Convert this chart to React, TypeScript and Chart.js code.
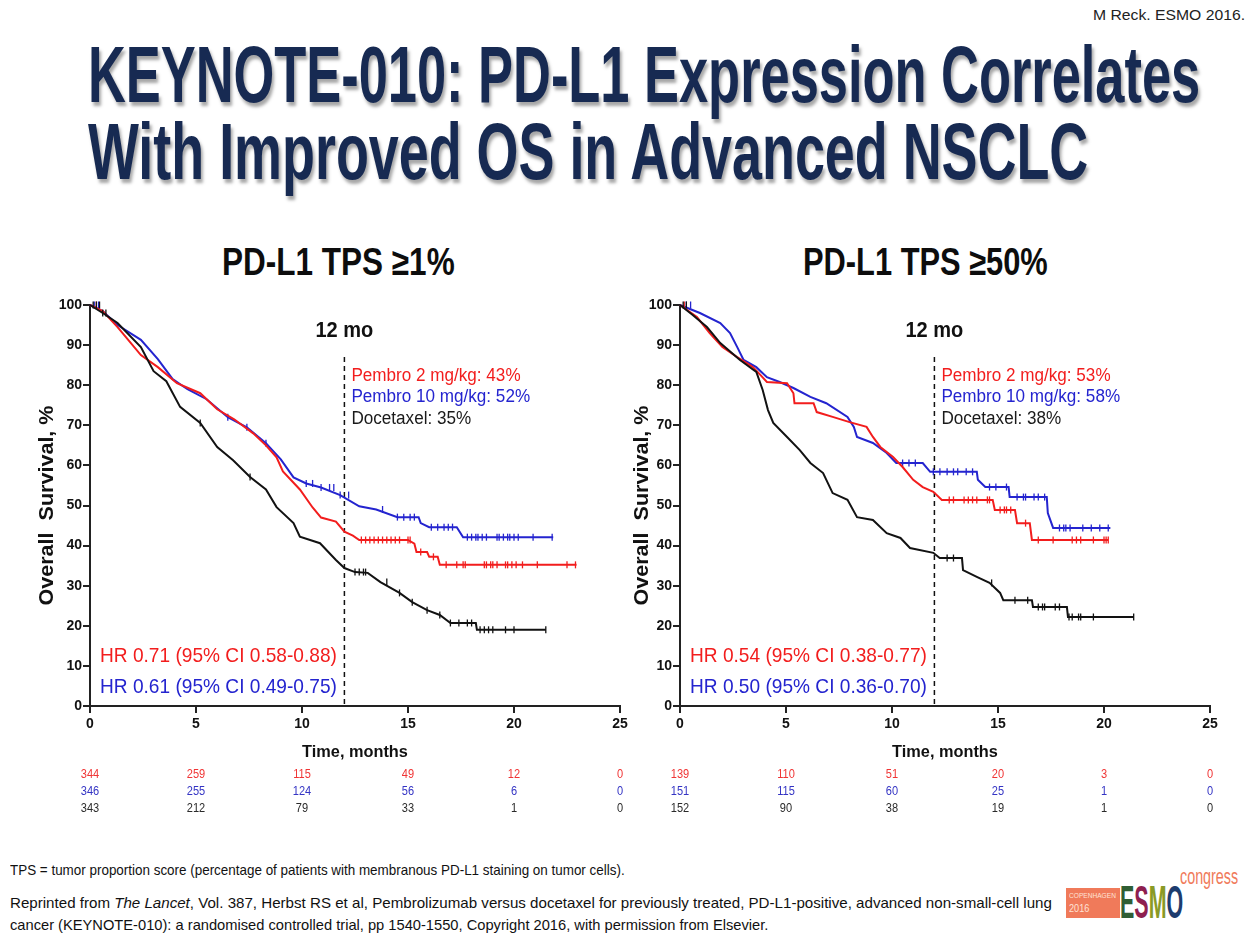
import React, { useEffect, useLayoutEffect, useRef, useState } from 'react';
import { Chart, registerables } from 'chart.js';
Chart.register(...registerables);

const FONT = "'Liberation Sans', Arial, Helvetica, sans-serif";
const RED = '#f21d1d';
const BLUE = '#2424cf';
const BLACK = '#121212';

// ---------------- DATA ----------------
const RISK_TIMES = [0, 5, 10, 15, 20, 25];

// Left panel: PD-L1 TPS >= 1%   ([months, survival %] vertices)
const L_PEMBRO2: [number, number][] = [
  [0, 100], [0.6, 98.5], [1.3, 94.5], [2.4, 87.5], [3.2, 84.5], [4.1, 80.5], [5.2, 78], [6.0, 74],
  [6.8, 71.5], [7.7, 68], [8.3, 65], [8.8, 62], [9.1, 58.5], [9.9, 54], [10.5, 49.5], [10.9, 47],
  [11.6, 46], [12.0, 43.5], [12.4, 42.5], [12.7, 41.4], [15.0, 41.4], [15.3, 40.5], [15.4, 38.4],
  [15.9, 38.4], [16.0, 37.2], [16.4, 37.2], [16.5, 35.2], [22.95, 35.2],
];
const L_PEMBRO10: [number, number][] = [
  [0, 100], [0.6, 98.5], [1.3, 95], [2.4, 91.3], [3.2, 86.5], [3.9, 81.5], [4.6, 79], [5.5, 76.5],
  [6.5, 72], [7.4, 69.5], [8.3, 65.5], [9.0, 61.5], [9.6, 57], [10.2, 55.5], [10.9, 54.5], [11.8, 52.6],
  [12.7, 49.8], [13.5, 49], [14.5, 47.1], [15.5, 47.1], [15.6, 45.6], [16.0, 44.6], [17.3, 44.6],
  [17.6, 42.1], [21.85, 42.1],
];
const L_DOCE: [number, number][] = [
  [0, 100], [0.6, 98], [1.3, 95.5], [2.4, 89.5], [3.0, 83.5], [3.6, 81], [4.25, 74.6], [5.2, 70.6],
  [6.0, 64.6], [6.75, 61.3], [7.55, 57.1], [8.3, 54], [8.8, 49.6], [9.6, 45.6], [9.9, 42.2], [10.85, 40.6],
  [11.6, 36.4], [12.0, 34.4], [12.5, 33.4], [13.1, 33.2], [13.7, 30.9], [14.6, 28.2], [15.2, 25.9],
  [15.9, 23.9], [16.5, 22.7], [17.0, 20.7], [18.2, 20.7], [18.25, 19.0], [21.5, 19.0],
];
const L_PEMBRO2_CENS = [0.3, 12.8, 13.0, 13.2, 13.4, 13.6, 13.8, 14.0, 14.2, 14.4, 14.6, 15.0, 15.1, 15.6,
  16.2, 16.8, 17.3, 17.6, 17.7, 18.6, 18.7, 18.9, 19.0, 19.2, 19.6, 19.7, 19.9, 20.1, 20.4, 21.1, 22.5, 22.9];
const L_PEMBRO10_CENS = [0.2, 0.4, 6.5, 7.4, 8.3, 10.2, 10.5, 10.9, 11.3, 11.5, 11.8, 12.2, 13.8, 14.5, 14.8,
  15.1, 15.3, 16.1, 16.4, 16.7, 16.9, 17.1, 17.8, 18.0, 18.2, 18.3, 18.5, 18.7, 19.2, 19.3, 19.5, 19.7,
  19.8, 20.0, 20.2, 20.9, 21.8];
const L_DOCE_CENS = [0.15, 0.3, 0.45, 0.6, 0.75, 5.2, 7.55, 12.5, 12.7, 12.9, 13.0, 14.0, 14.6, 15.2, 15.9,
  16.5, 17.0, 17.4, 17.8, 18.0, 18.4, 18.6, 18.8, 19.0, 19.6, 20.0, 21.5];
const L_RISK_PEMBRO2 = [344, 259, 115, 49, 12, 0];
const L_RISK_PEMBRO10 = [346, 255, 124, 56, 6, 0];
const L_RISK_DOCE = [343, 212, 79, 33, 1, 0];
const L_PCT_12MO = [43, 52, 35];
const L_HR = ['HR 0.71 (95% CI 0.58-0.88)', 'HR 0.61 (95% CI 0.49-0.75)'];

// Right panel: PD-L1 TPS >= 50%
const R_PEMBRO2: [number, number][] = [
  [0, 100], [0.8, 97], [1.4, 93], [2.0, 89.5], [2.7, 87], [3.45, 84.5], [3.8, 82.5], [4.1, 80.8],
  [5.05, 80.5], [5.35, 78], [5.4, 75.5], [6.3, 75.5], [6.45, 73.3], [7.2, 72.1], [8.0, 70.8], [8.8, 69.6],
  [9.1, 67.1], [9.45, 64.6], [10.05, 62.1], [10.5, 59.6], [11.0, 56.4], [11.45, 54.6], [11.95, 53.4],
  [12.35, 51.4], [14.75, 51.4], [14.85, 48.9], [15.8, 48.9], [15.9, 45.6], [16.5, 45.6], [16.6, 41.4],
  [20.2, 41.4],
];
const R_PEMBRO10: [number, number][] = [
  [0, 100], [0.94, 98], [1.9, 95.5], [2.36, 93], [2.7, 89.5], [3.0, 86.3], [3.6, 84.5], [4.1, 82],
  [4.7, 80.8], [5.35, 79.3], [6.15, 77.1], [6.9, 75.5], [7.9, 72.1], [8.2, 69.6], [8.35, 67.1], [9.1, 65.6],
  [9.75, 63.1], [10.2, 60.6], [11.45, 60.6], [11.8, 58.4], [14.0, 58.4], [14.05, 56.4], [14.4, 54.6],
  [15.5, 54.6], [15.55, 52.1], [17.3, 52.1], [17.35, 48.1], [17.6, 44.4], [20.3, 44.4],
];
const R_DOCE: [number, number][] = [
  [0, 100], [0.6, 97.5], [1.27, 94.5], [1.9, 90.5], [2.83, 86.3], [3.6, 83.3], [3.9, 78.8], [4.15, 73.8],
  [4.4, 70.6], [5.05, 67.1], [5.65, 63.8], [6.15, 60.6], [6.75, 58.1], [7.2, 53.1], [7.9, 51.4], [8.35, 47.1],
  [9.1, 46.4], [9.75, 43.1], [10.4, 41.9], [10.85, 39.4], [11.95, 38.2], [12.25, 36.9], [13.3, 36.9],
  [13.35, 33.9], [14.0, 32.2], [14.6, 30.7], [15.1, 28.2], [15.25, 26.4], [16.6, 26.4], [16.65, 24.7],
  [18.25, 24.7], [18.3, 22.2], [21.4, 22.2],
];
const R_PEMBRO2_CENS = [0.2, 12.7, 12.9, 13.4, 13.6, 13.8, 14.0, 14.5, 14.6, 15.1, 15.3, 15.4, 15.6, 16.3,
  16.9, 17.6, 18.5, 18.7, 18.9, 19.5, 20.0, 20.1, 20.2];
const R_PEMBRO10_CENS = [0.3, 0.5, 10.5, 10.8, 11.1, 11.95, 12.26, 12.6, 12.9, 13.1, 13.5, 13.8, 14.6, 14.9,
  15.4, 15.9, 16.2, 16.3, 16.7, 16.9, 17.2, 17.9, 18.1, 18.2, 18.4, 19.0, 19.4, 19.8, 20.2];
const R_DOCE_CENS = [0.15, 0.3, 12.6, 12.9, 14.7, 15.8, 16.4, 16.9, 17.1, 17.2, 17.7, 17.9, 18.35, 18.5,
  18.8, 18.9, 19.5, 21.4];
const R_RISK_PEMBRO2 = [139, 110, 51, 20, 3, 0];
const R_RISK_PEMBRO10 = [151, 115, 60, 25, 1, 0];
const R_RISK_DOCE = [152, 90, 38, 19, 1, 0];
const R_PCT_12MO = [53, 58, 38];
const R_HR = ['HR 0.54 (95% CI 0.38-0.77)', 'HR 0.50 (95% CI 0.36-0.70)'];

// ---------------- PANELS ----------------
type Curve = { pts: [number, number][]; cens: number[]; color: string };
type Panel = { curves: Curve[]; risk: number[][]; pct: number[]; hr: string[]; yTitleOffset: number };

const LEFT_PANEL: Panel = {
  curves: [
    { pts: L_DOCE, cens: L_DOCE_CENS, color: BLACK },
    { pts: L_PEMBRO2, cens: L_PEMBRO2_CENS, color: RED },
    { pts: L_PEMBRO10, cens: L_PEMBRO10_CENS, color: BLUE },
  ],
  risk: [L_RISK_PEMBRO2, L_RISK_PEMBRO10, L_RISK_DOCE],
  pct: L_PCT_12MO,
  hr: L_HR,
  yTitleOffset: 43,
};
const RIGHT_PANEL: Panel = {
  curves: [
    { pts: R_DOCE, cens: R_DOCE_CENS, color: BLACK },
    { pts: R_PEMBRO2, cens: R_PEMBRO2_CENS, color: RED },
    { pts: R_PEMBRO10, cens: R_PEMBRO10_CENS, color: BLUE },
  ],
  risk: [R_RISK_PEMBRO2, R_RISK_PEMBRO10, R_RISK_DOCE],
  pct: R_PCT_12MO,
  hr: R_HR,
  yTitleOffset: 38,
};

// KM value at time t (value after the last vertex at or before t)
function stepAt(pts: [number, number][], t: number) {
  let s = pts[0][1];
  for (const [pt, ps] of pts) {
    if (pt <= t) s = ps;
    else break;
  }
  return s;
}

function txt(
  ctx: CanvasRenderingContext2D, s: string, x: number, y: number, font: string, color: string,
  o: { k?: number; w?: number; align?: CanvasTextAlign; rot?: boolean } = {}
) {
  ctx.save();
  ctx.font = font;
  ctx.fillStyle = color;
  ctx.textBaseline = 'middle';
  const nat = ctx.measureText(s).width;
  const k = o.w ? o.w / nat : o.k ?? 1;
  ctx.translate(x, y);
  if (o.rot) ctx.rotate(-Math.PI / 2);
  ctx.scale(k, 1);
  ctx.textAlign = o.align ?? 'left';
  ctx.fillText(s, 0, 0);
  ctx.restore();
}

const RISK_COLORS = ['#f03434', '#3434c4', '#2a2a2a'];

function KMChart({ panel, left, top }: { panel: Panel; left: number; top: number }) {
  const ref = useRef<HTMLCanvasElement>(null);
  useEffect(() => {
    if (!ref.current) return;
    const datasets: any[] = [];
    panel.curves.forEach((c) => {
      datasets.push({
        data: c.pts.map(([x, y]) => ({ x, y })),
        borderColor: c.color,
        borderWidth: 2,
        pointRadius: 0,
        fill: false,
        tension: 0,
        clip: false,
      });
      datasets.push({
        data: c.cens.map((t) => ({ x: t, y: stepAt(c.pts, t) })),
        showLine: false,
        pointStyle: 'line',
        pointRotation: 90,
        pointRadius: 3.5,
        pointBorderWidth: 1.3,
        pointBorderColor: c.color,
        borderColor: c.color,
        clip: false,
      });
    });
    const annot = {
      id: 'annot',
      beforeDatasetsDraw(chart: any) {
        const { ctx, chartArea, scales } = chart;
        const x12 = scales.x.getPixelForValue(12);
        ctx.save();
        ctx.strokeStyle = '#111';
        ctx.lineWidth = 1.5;
        ctx.setLineDash([5, 4]);
        ctx.beginPath();
        ctx.moveTo(x12, chartArea.top + 52);
        ctx.lineTo(x12, chartArea.bottom);
        ctx.stroke();
        ctx.restore();
      },
      afterDraw(chart: any) {
        const { ctx, chartArea, scales } = chart;
        const { top: t, bottom: b, left: l, right: r } = chartArea;
        const x12 = scales.x.getPixelForValue(12);
        txt(ctx, '12 mo', x12, t + 26, `bold 22px ${FONT}`, '#111', { k: 0.91, align: 'center' });
        const labels = [
          [`Pembro 2 mg/kg: ${panel.pct[0]}%`, RED],
          [`Pembro 10 mg/kg: ${panel.pct[1]}%`, BLUE],
          [`Docetaxel: ${panel.pct[2]}%`, '#1a1a1a'],
        ];
        labels.forEach(([s, c], i) => {
          txt(ctx, s, x12 + 7, t + 71 + i * 21.5, `18px ${FONT}`, c, { k: 0.95 });
        });
        txt(ctx, panel.hr[0], l + 10, b - 50, `21px ${FONT}`, RED, { k: 0.91 });
        txt(ctx, panel.hr[1], l + 10, b - 19, `21px ${FONT}`, BLUE, { k: 0.91 });
        txt(ctx, 'Overall  Survival, %', l - panel.yTitleOffset, (t + b) / 2, `bold 20px ${FONT}`, '#111',
          { w: 200, align: 'center', rot: true });
        txt(ctx, 'Time, months', (l + r) / 2, b + 46, `bold 17px ${FONT}`, '#111', { k: 0.96, align: 'center' });
        panel.risk.forEach((row, ri) => {
          row.forEach((v, ci) => {
            const x = scales.x.getPixelForValue(RISK_TIMES[ci]);
            txt(ctx, String(v), x, b + 68 + ri * 17, `13px ${FONT}`, RISK_COLORS[ri], { k: 0.85, align: 'center' });
          });
        });
      },
    };
    const axisCommon = {
      type: 'linear' as const,
      grid: { drawOnChartArea: false, drawTicks: true, tickLength: 7, color: '#222', lineWidth: 2 },
      border: { display: true, color: '#222', width: 2 },
    };
    const chart = new Chart(ref.current, {
      type: 'line',
      data: { datasets },
      options: {
        responsive: false,
        maintainAspectRatio: false,
        animation: false,
        events: [],
        layout: { padding: { left: 0, right: 20, top: 15, bottom: 0 } },
        plugins: { legend: { display: false }, tooltip: { enabled: false }, title: { display: false } },
        scales: {
          x: {
            ...axisCommon,
            min: 0,
            max: 25,
            afterFit: (s: any) => { s.height = 114; },
            ticks: { stepSize: 5, autoSkip: false, maxRotation: 0, padding: 3, color: '#111', font: { family: FONT, size: 14, weight: 'bold' } },
          },
          y: {
            ...axisCommon,
            min: 0,
            max: 100,
            afterFit: (s: any) => { s.width = 90; },
            ticks: { stepSize: 10, autoSkip: false, padding: 1, color: '#111', font: { family: FONT, size: 14, weight: 'bold' } },
          },
        },
      } as any,
      plugins: [annot],
    });
    return () => chart.destroy();
  }, [panel]);
  return <canvas ref={ref} width={640} height={530} style={{ position: 'absolute', left, top, width: 640, height: 530 }} />;
}

function FitText({ left, top, width, size, weight = 'normal', color = '#111', shadow, children }: any) {
  const ref = useRef<HTMLDivElement>(null);
  const [k, setK] = useState(1);
  useLayoutEffect(() => {
    const el = ref.current;
    if (!el) return;
    const w = el.offsetWidth;
    if (w > 0) setK(width / w);
  }, [width]);
  return (
    <div
      ref={ref}
      style={{
        position: 'absolute', left, top, fontSize: size, lineHeight: `${size}px`, fontWeight: weight, color,
        whiteSpace: 'nowrap', transform: `scaleX(${k})`, transformOrigin: '0 0', textShadow: shadow, fontFamily: FONT,
      }}
    >
      {children}
    </div>
  );
}

export default function App() {
  const titleColor = '#172a52';
  const shadow = '3px 4px 4px rgba(0,0,0,0.35)';
  return (
    <div style={{ position: 'absolute', left: 0, top: 0, width: 1260, height: 945, overflow: 'hidden', background: '#fff', fontFamily: FONT }}>
      <FitText left={1093} top={7} width={152} size={15} color="#222">M Reck. ESMO 2016.</FitText>
      <FitText left={88} top={34.6} width={1112} size={80} weight="bold" color={titleColor} shadow={shadow}>
        KEYNOTE-010: PD-L1 Expression Correlates
      </FitText>
      <FitText left={88} top={111.6} width={1000} size={80} weight="bold" color={titleColor} shadow={shadow}>
        With Improved OS in Advanced NSCLC
      </FitText>
      <FitText left={222} top={243} width={233} size={38} weight="bold" color="#0d0d0d">PD-L1 TPS ≥1%</FitText>
      <FitText left={803} top={243} width={245} size={38} weight="bold" color="#0d0d0d">PD-L1 TPS ≥50%</FitText>

      <KMChart panel={LEFT_PANEL} left={0} top={290} />
      <KMChart panel={RIGHT_PANEL} left={590} top={290} />

      <FitText left={10} top={862} width={615} size={15} color="#111">
        TPS = tumor proportion score (percentage of patients with membranous PD-L1 staining on tumor cells).
      </FitText>
      <FitText left={10} top={895} width={1042} size={15} color="#111">
        Reprinted from <i>The Lancet</i>, Vol. 387, Herbst RS et al, Pembrolizumab versus docetaxel for previously treated, PD-L1-positive, advanced non-small-cell lung
      </FitText>
      <FitText left={10} top={917} width={758} size={15} color="#111">
        cancer (KEYNOTE-010): a randomised controlled trial, pp 1540-1550, Copyright 2016, with permission from Elsevier.
      </FitText>

      {/* ESMO congress logo */}
      <div style={{ position: 'absolute', left: 1066, top: 888, width: 54, height: 30, background: '#f07a5a' }} />
      <FitText left={1069} top={892} width={47} size={8} color="#ffe2d6">COPENHAGEN</FitText>
      <FitText left={1069} top={903} width={20} size={11} color="#ffe2d6">2016</FitText>
      <FitText left={1120} top={878} width={63} size={47} weight="bold" color="#333">
        <span style={{ color: '#2f5e34' }}>E</span>
        <span style={{ color: '#8e1f4f' }}>S</span>
        <span style={{ color: '#8a9a26' }}>M</span>
        <span style={{ color: '#1d3c6e' }}>O</span>
      </FitText>
      <FitText left={1180} top={866} width={58} size={22} color="#f07a5a">congress</FitText>
    </div>
  );
}
